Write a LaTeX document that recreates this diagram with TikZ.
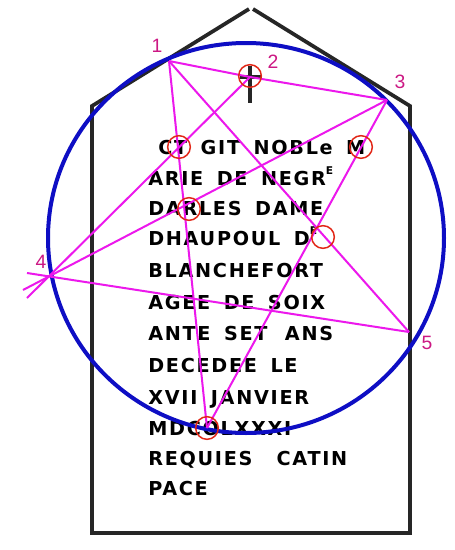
\documentclass[tikz,border=0pt]{standalone}
\usepackage{fontspec}
\usepackage{tikz}
\newfontfamily\inscrfont{DejaVu Sans}[LetterSpace=9,WordSpace=1.6]
\newfontfamily\numfont{Liberation Sans}
\newcommand{\raisedE}{\raisebox{0.55em}{\fontsize{8}{8}\selectfont E}}
\definecolor{starmag}{RGB}{236,24,236}
\definecolor{ringred}{RGB}{226,38,22}
\definecolor{bigblue}{RGB}{14,14,196}
\definecolor{numpink}{RGB}{204,24,132}

\begin{document}
\begin{tikzpicture}[x=0.75pt,y=0.75pt,yscale=-1,xscale=1,
	stone/.style={line width=2.8pt,color=black!85,line join=miter},
	pentaline/.style={line width=1.5pt,color=starmag},
	ringmark/.style={draw=ringred,line width=1.1pt,circle,minimum size=17pt,inner sep=0pt},
	ptlabel/.style={font=\numfont\fontsize{14.5}{14.5}\selectfont,color=numpink,inner sep=0.75pt},
	inscr/.style={anchor=base west,inner sep=0pt,font=\inscrfont\bfseries\fontsize{14.4}{16}\selectfont}]
	\useasboundingbox (0,0) rectangle (454,550);
	\fill[white] (0,0) rectangle (454,550);
	
	%Shape: Stone outline
	\draw[stone] (249,9) -- (92,106) -- (92,533) -- (410,533) -- (410,106) -- (253,9);
	
	% Text Node
	\node[inscr] (row1) at (158,154) {CT GIT NOBLe M};
	% Text Node
	\node[inscr] (row2) at (148,185) {ARIE DE NEGR\raisedE};
	% Text Node
	\node[inscr] (row3) at (148,215) {DARLES DAME};
	% Text Node
	\node[inscr] (row4) at (148,245) {DHAUPOUL D\raisedE};
	% Text Node
	\node[inscr] (row5) at (148,277) {BLANCHEFORT};
	% Text Node
	\node[inscr] (row6) at (148,309) {AGEE DE SOIX};
	% Text Node
	\node[inscr] (row7) at (148,340) {ANTE SET\hspace{3pt} ANS};
	% Text Node
	\node[inscr] (row8) at (148,372) {DECEDEE LE};
	% Text Node
	\node[inscr] (row9) at (148,404) {XVII JANVIER};
	% Text Node
	\node[inscr] (row10) at (148,435) {MDCOLXXXI};
	% Text Node
	\node[inscr] (row11) at (148,465) {REQUIES\hspace{8pt} CATIN};
	% Text Node
	\node[inscr] (row12) at (148,495) {PACE};
	
	%Shape: Cross
	\draw[line width=3.4pt,color=black!85] (250,66) -- (250,103);
	\draw[line width=3.4pt,color=black!85] (240,77) -- (262,77);
	
	%Shape: Ellipse
	\draw[color=bigblue,line width=3pt] (246,238) ellipse [x radius=198,y radius=195];
	
	% Star points
	\coordinate (p1) at (169,61);
	\coordinate (p2) at (250,77);
	\coordinate (p3) at (387,100);
	\coordinate (p4) at (50,276);
	\coordinate (p5) at (409,332);
	\coordinate (p6) at (207,428);
	\coordinate (t2) at (27,298);
	\coordinate (t3) at (23,290);
	\coordinate (t5) at (27,273);
	
	%Straight Lines
	\draw[pentaline] (p1) -- (p2) -- (p3);
	\draw[pentaline] (p1) -- (p6);
	\draw[pentaline] (p1) -- (p5);
	\draw[pentaline] (p3) -- (p6);
	\draw[pentaline] (p2) -- (t2);
	\draw[pentaline] (p3) -- (t3);
	\draw[pentaline] (p5) -- (t5);
	
	% Marked letters
	\node[ringmark] (mk2) at (250,76) {};
	\node[ringmark] (mkc) at (179,147) {};
	\node[ringmark] (mkm) at (361,147) {};
	\node[ringmark] (mkr) at (189,209) {};
	\node[ringmark] (mkd) at (323,237) {};
	\node[ringmark] (mko) at (207,428) {};
	
	% Text Node
	\node[ptlabel] (n1) at (157,46) {1};
	% Text Node
	\node[ptlabel] (n2) at (273,62) {2};
	% Text Node
	\node[ptlabel] (n3) at (400,82) {3};
	% Text Node
	\node[ptlabel] (n4) at (41,262) {4};
	% Text Node
	\node[ptlabel] (n5) at (427,343) {5};
\end{tikzpicture}
\end{document}
